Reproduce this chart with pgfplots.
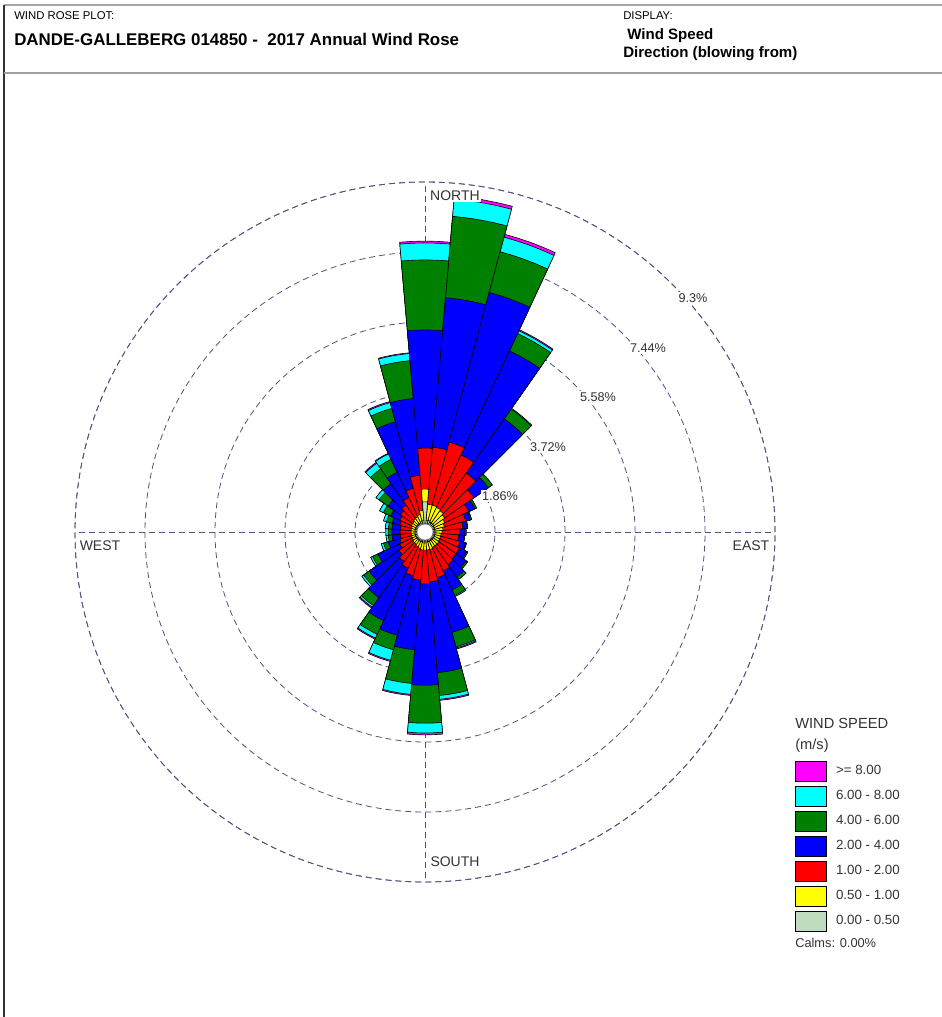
\documentclass[border=0pt]{standalone}
\usepackage{pgfplots}
\pgfplotsset{compat=1.18}
\usepackage{pgfplotstable}
\usepgfplotslibrary{polar}
\usepackage{fontspec}
\setmainfont{Liberation Sans}

\definecolor{wsmag}{RGB}{255,0,255}
\definecolor{wscyan}{RGB}{0,255,255}
\definecolor{wsgreen}{RGB}{0,128,0}
\definecolor{wsblue}{RGB}{0,0,255}
\definecolor{wsred}{RGB}{255,0,0}
\definecolor{wsyellow}{RGB}{255,255,0}
\definecolor{wsgray}{RGB}{192,220,192}
\definecolor{gridc}{RGB}{80,80,130}
\definecolor{txt}{RGB}{50,50,50}

% cumulative frequency (%) up to the upper bound of each speed class
\pgfplotstableread{
dir gray yellow red blue green cyan magenta
10 0.32 0.74 2.26 6.25 8.42 8.88 8.96
20 0.32 0.74 2.47 6.59 7.71 8.11 8.19
30 0.29 0.72 2.26 5.31 5.82 5.90 5.93
40 0.29 0.69 1.91 3.67 3.99 4.01 4.01
50 0.29 0.64 1.59 2.05 2.18 2.18 2.18
60 0.27 0.58 1.28 1.46 1.51 1.51 1.51
70 0.27 0.53 1.12 1.25 1.28 1.28 1.28
80 0.27 0.48 1.01 1.12 1.14 1.14 1.14
90 0.27 0.45 0.93 1.06 1.09 1.09 1.09
100 0.27 0.43 0.90 1.04 1.06 1.06 1.06
110 0.27 0.43 0.96 1.12 1.14 1.14 1.14
120 0.27 0.43 1.01 1.22 1.25 1.25 1.25
130 0.27 0.45 1.01 1.33 1.38 1.38 1.38
140 0.27 0.45 1.06 1.46 1.54 1.54 1.54
150 0.27 0.45 1.14 1.70 1.86 1.89 1.89
160 0.27 0.48 1.25 2.76 3.16 3.19 3.22
170 0.27 0.48 1.33 3.75 4.36 4.46 4.49
180 0.27 0.48 1.38 4.07 5.08 5.34 5.39
190 0.27 0.48 1.28 3.14 4.04 4.33 4.36
200 0.27 0.45 1.20 2.84 3.24 3.53 3.56
210 0.27 0.43 1.06 2.60 3.00 3.11 3.14
220 0.27 0.40 0.96 2.13 2.39 2.44 2.47
230 0.27 0.40 0.85 1.81 1.99 2.05 2.05
240 0.27 0.37 0.74 1.38 1.54 1.59 1.59
250 0.27 0.37 0.69 1.01 1.14 1.20 1.20
260 0.27 0.37 0.66 0.88 0.98 1.04 1.04
270 0.27 0.37 0.66 0.88 0.98 1.04 1.04
280 0.27 0.37 0.66 0.88 0.98 1.06 1.06
290 0.27 0.37 0.69 0.90 1.06 1.14 1.14
300 0.27 0.40 0.74 1.01 1.22 1.33 1.33
310 0.27 0.40 0.80 1.20 1.49 1.59 1.59
320 0.27 0.43 0.88 1.57 2.05 2.23 2.26
330 0.27 0.45 1.01 1.75 2.13 2.29 2.31
340 0.29 0.48 1.20 3.03 3.40 3.56 3.59
350 0.32 0.58 1.51 3.56 4.57 4.76 4.78
360 0.80 1.14 2.23 5.37 7.23 7.68 7.73
}\windtable

\newcommand{\wedges}[2]{%
  \pgfplotsforeachungrouped \wi in {0,...,35}{%
    \pgfplotstablegetelem{\wi}{dir}\of\windtable
    \pgfmathsetmacro\wA{90-\pgfplotsretval}%
    \pgfplotstablegetelem{\wi}{#1}\of\windtable
    \let\wR\pgfplotsretval
    \pgfmathsetmacro\wB{\wA-5}%
    \pgfmathsetmacro\wC{\wA-2.5}%
    \pgfmathsetmacro\wD{\wA+2.5}%
    \pgfmathsetmacro\wE{\wA+5}%
    \edef\wtmp{\noexpand\addplot[forget plot, draw=black, line width=0.45pt, line join=round, fill=#2] coordinates {(0,0) (\wB,\wR) (\wC,\wR) (\wA,\wR) (\wD,\wR) (\wE,\wR)} -- cycle;}%
    \wtmp
  }%
}

\pgfplotsset{wslegend/.style={legend image code/.code={\draw[##1, draw=black, line width=0.5pt] (0pt,-7.5pt) rectangle (23.25pt,7.5pt);}}}

\begin{document}
\begin{tikzpicture}
\begin{polaraxis}[
  at={(318.75pt,-399pt)}, anchor=center,
  scale only axis, width=525pt, height=525pt,
  ymin=0, ymax=9.3,
  xtick={0,90,180,270}, ytick={1.86,3.72,5.58,7.44,9.3},
  xticklabels={}, yticklabels={},
  major tick length=0pt,
  grid=major,
  major grid style={gridc, line width=0.6pt, dash pattern=on 4.5pt off 3pt},
  axis line style={gridc, line width=0.6pt, dash pattern=on 4.5pt off 3pt},
  legend cell align=left,
  legend style={draw=none, fill=none, inner sep=0pt, outer sep=0pt,
    at={(1.0286,0.1729)}, anchor=north west,
    font=\fontsize{10pt}{12pt}\selectfont, text=txt, row sep=3.2pt, column sep=5pt},
]
\wedges{magenta}{wsmag}
\wedges{cyan}{wscyan}
\wedges{green}{wsgreen}
\wedges{blue}{wsblue}
\wedges{red}{wsred}
\wedges{yellow}{wsyellow}
\wedges{gray}{wsgray}
\draw[fill=white, draw=gray, line width=0.5pt] (axis cs:0,0) circle[radius=6pt];
\addlegendimage{wslegend, fill=wsmag}\addlegendentry{>= 8.00}
\addlegendimage{wslegend, fill=wscyan}\addlegendentry{6.00 - 8.00}
\addlegendimage{wslegend, fill=wsgreen}\addlegendentry{4.00 - 6.00}
\addlegendimage{wslegend, fill=wsblue}\addlegendentry{2.00 - 4.00}
\addlegendimage{wslegend, fill=wsred}\addlegendentry{1.00 - 2.00}
\addlegendimage{wslegend, fill=wsyellow}\addlegendentry{0.50 - 1.00}
\addlegendimage{wslegend, fill=wsgray}\addlegendentry{0.00 - 0.50}
\end{polaraxis}
\begin{scope}[x=0.75pt, y=-0.75pt]
  % frame
  \draw[gray!70, line width=1.2pt] (4,5) -- (942,5);
  \draw[black!80, line width=1pt] (4,5) -- (4,1017);
  \draw[gray!75, line width=1.8pt] (4,73) -- (942,73);
  % header
  \node[anchor=base west, inner sep=0pt, font=\fontsize{8.5pt}{10pt}\selectfont] at (14,19) {WIND ROSE PLOT:};
  \node[anchor=base west, inner sep=0pt, font=\bfseries\fontsize{12.7pt}{15pt}\selectfont] at (14,45) {DANDE-GALLEBERG 014850 -\ \ 2017 Annual Wind Rose};
  \node[anchor=base west, inner sep=0pt, font=\fontsize{8.5pt}{10pt}\selectfont] at (623,19) {DISPLAY:};
  \node[anchor=base west, inner sep=0pt, font=\bfseries\fontsize{11.3pt}{13pt}\selectfont] at (627,39) {Wind Speed};
  \node[anchor=base west, inner sep=0pt, font=\bfseries\fontsize{11.3pt}{13pt}\selectfont] at (623,57) {Direction (blowing from)};
  % compass labels
  \node[fill=white, inner sep=1pt, text=txt, font=\fontsize{10.5pt}{12pt}\selectfont] at (455,196) {NORTH};
  \node[inner sep=1pt, text=txt, font=\fontsize{10.5pt}{12pt}\selectfont] at (751,546) {EAST};
  \node[fill=white, inner sep=1pt, text=txt, font=\fontsize{10.5pt}{12pt}\selectfont] at (455,862) {SOUTH};
  \node[inner sep=1pt, text=txt, font=\fontsize{10.5pt}{12pt}\selectfont] at (100,546) {WEST};
  % ring labels
  \foreach \lx/\ly/\lt in {500/496/1.86\%, 548/447/3.72\%, 598/397/5.58\%, 648/348/7.44\%, 693/298/9.3\%}
    \node[fill=white, inner sep=1pt, text=txt, font=\fontsize{9.5pt}{11pt}\selectfont] at (\lx,\ly) {\lt};
  % legend title and calms
  \node[anchor=base west, inner sep=0pt, text=txt, font=\fontsize{11pt}{13pt}\selectfont] at (795,728) {WIND SPEED};
  \node[anchor=base west, inner sep=0pt, text=txt, font=\fontsize{11pt}{13pt}\selectfont] at (795,749) {(m/s)};
  \node[anchor=base west, inner sep=0pt, text=txt, font=\fontsize{9.6pt}{11pt}\selectfont] at (795,947) {Calms: 0.00\%};
  \pgfresetboundingbox
  \path[use as bounding box] (0,0) rectangle (942,1017);
\end{scope}
\end{tikzpicture}
\end{document}
